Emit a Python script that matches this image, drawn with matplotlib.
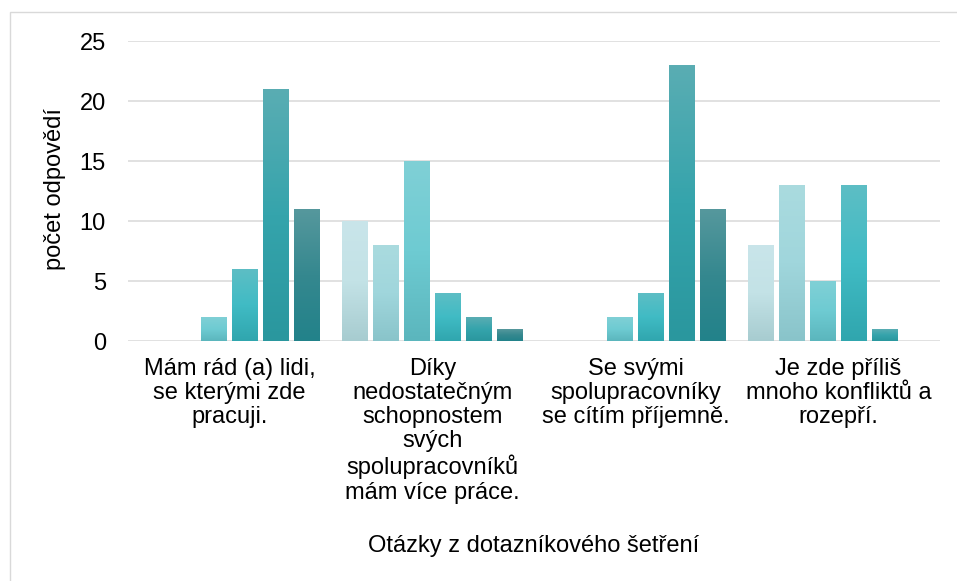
import numpy as np
import matplotlib
matplotlib.use("Agg")
import matplotlib.pyplot as plt
from matplotlib.colors import LinearSegmentedColormap
from matplotlib.patches import Rectangle

plt.rcParams['font.family'] = ['Liberation Sans', 'DejaVu Sans']

categories = [
    "Mám rád (a) lidi,\nse kterými zde\npracuji.",
    "Díky\nnedostatečným\nschopnostem\nsvých\nspolupracovníků\nmám více práce.",
    "Se svými\nspolupracovníky\nse cítím příjemně.",
    "Je zde příliš\nmnoho konfliktů a\nrozepří.",
]
series1 = [0, 10, 0, 8]
series2 = [0, 8, 0, 13]
series3 = [2, 15, 2, 5]
series4 = [6, 4, 4, 13]
series5 = [21, 2, 23, 1]
series6 = [11, 1, 11, 0]
yticks = [0, 5, 10, 15, 20, 25]

# gradient stops per series: top, middle, bottom
gradients = [
    ("#c9e5ea", "#c3e2e6", "#a7ccd0"),
    ("#aadbdf", "#a0d6dc", "#89c4ca"),
    ("#80d0d6", "#6ecbd2", "#5bb6bd"),
    ("#5dbec5", "#40bbc4", "#30a6ae"),
    ("#5aadb3", "#35a4ac", "#2a979e"),
    ("#56989d", "#35888f", "#22828a"),
]

FS = 17
W, H = 957, 581
fig = plt.figure(figsize=(W / 100, H / 100), dpi=100)
ax = fig.add_axes([128 / W, (H - 341) / H, (940 - 128) / W, 300 / H])

# outer chart border (left and top visible)
fig.add_artist(Rectangle((9.5 / W, -0.1), 1.5, (H - 12) / H + 0.1,
                         transform=fig.transFigure, fill=False,
                         edgecolor="#d9d9d9", linewidth=1.0))

all_series = [series1, series2, series3, series4, series5, series6]
x = np.arange(len(categories))
slot = 0.1527
width = 0.128
grad = np.linspace(0, 1, 256).reshape(-1, 1)

for i, vals in enumerate(all_series):
    offs = (i - 2.5) * slot
    bars = ax.bar(x + offs, vals, width=width, color=gradients[i][1],
                  linewidth=0, zorder=2)
    cmap = LinearSegmentedColormap.from_list("g%d" % i, list(gradients[i]))
    for b in bars:
        h = b.get_height()
        if h <= 0:
            continue
        x0 = b.get_x()
        im = ax.imshow(grad, cmap=cmap, aspect="auto", zorder=3,
                       extent=(x0, x0 + b.get_width(), 0, h), origin="upper")
        im.set_clip_path(b)

ax.set_xlim(-0.5, len(categories) - 0.5)
ax.set_ylim(0, 25)
ax.set_yticks(yticks)
ax.yaxis.grid(True, color="#d9d9d9", linewidth=1.1)
ax.set_axisbelow(True)
for s in ax.spines.values():
    s.set_visible(False)
ax.tick_params(axis="both", length=0, labelsize=FS, colors="black")
ax.tick_params(axis="y", pad=16)
ax.tick_params(axis="x", pad=12)
ax.set_xticks(x)
ax.set_xticklabels(categories, linespacing=1.13, ha="center", va="top",
                   multialignment="center")

fig.text(55 / W, 1 - 189 / H, "počet odpovědí", rotation=90, fontsize=FS,
         ha="center", va="center")
fig.text(534 / W, 1 - 546 / H, "Otázky z dotazníkového šetření", fontsize=FS,
         ha="center", va="center")

fig.savefig("out.png", dpi=100)
